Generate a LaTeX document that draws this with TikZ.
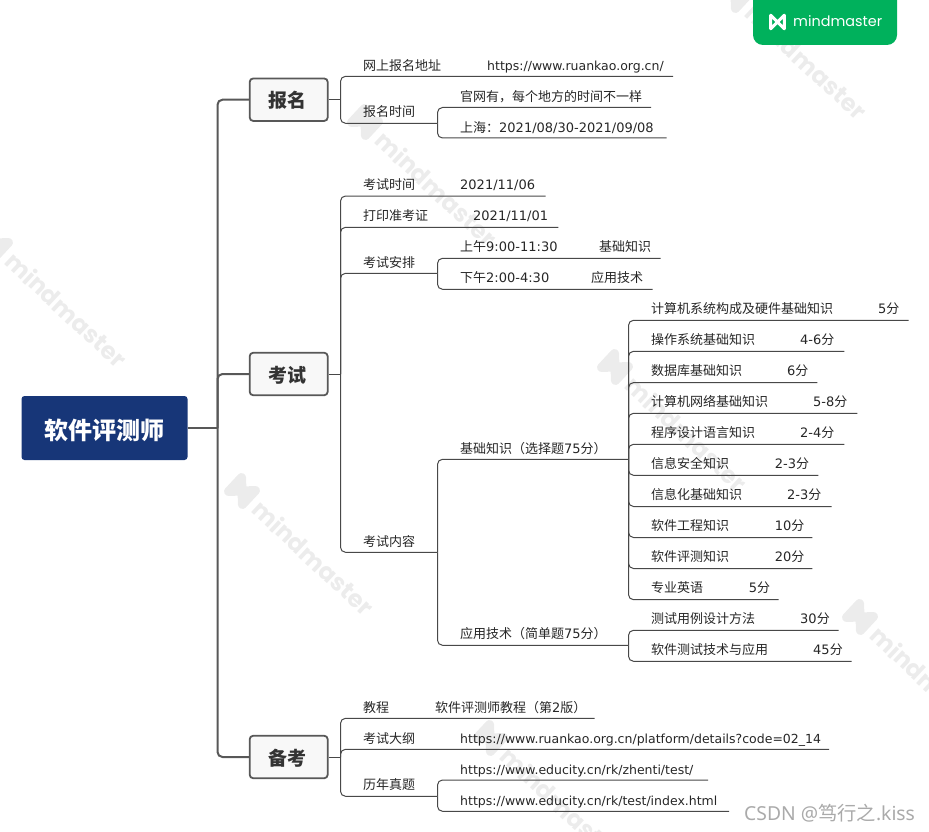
\documentclass[tikz,border=0pt]{standalone}
\usepackage{fontspec}
\setmainfont{DejaVu Sans}
\newfontfamily\cjk{Noto Sans CJK SC}
\newfontfamily\wmfont{Poppins}
\newfontfamily\csdnfont{Noto Sans}
\newcommand{\zh}[1]{{\cjk #1}}
\definecolor{rootblue}{RGB}{23,54,120}
\definecolor{topicfill}{RGB}{248,248,248}
\definecolor{linegray}{RGB}{72,72,72}
\definecolor{trunkgray}{RGB}{88,88,88}
\definecolor{wmgray}{RGB}{236,236,236}
\definecolor{mmgreen}{RGB}{0,177,92}
\definecolor{csdngray}{RGB}{170,170,170}

\begin{document}
\begin{tikzpicture}[
    x=1pt, y=-1pt,
    font=\fontsize{13}{15}\selectfont,
    root/.style  = {rectangle, fill=rootblue, rounded corners=3pt, minimum width=166pt,
                    minimum height=64pt, inner sep=0pt, text=white, text height=25.1pt, text depth=2.9pt,
                    font=\fontsize{24}{28}\selectfont\cjk\bfseries},
    topic/.style = {rectangle, draw=trunkgray, fill=topicfill, line width=1.8pt, rounded corners=3.5pt,
                    minimum width=78pt, minimum height=42.5pt, inner sep=0pt, text=black!80,
                    text height=18.7pt, text depth=2.3pt, execute at end node={\hspace{2.5pt}},
                    font=\fontsize{19}{24}\selectfont\cjk\bfseries},
    lbl/.style   = {anchor=base west, inner sep=0pt, text=black!85},
    url/.style   = {lbl, font=\fontsize{12.5}{15}\selectfont},
    trunk/.style = {line width=2pt, trunkgray, rounded corners=5pt},
    twig/.style  = {line width=1pt, linegray, rounded corners=5pt},
    mmlogo/.pic  = {\draw[line width=3pt, white, line join=round]
                    (-6.8,-6.8) -- (-6.8,6.8) -- (6.8,-6.8) -- (6.8,6.8) -- (-6.8,-6.8) -- cycle;},
    wmark/.pic   = {\draw[line width=9pt, wmgray, line join=round]
                    (-9.5,-9.5) -- (-9.5,9.5) -- (9.5,-9.5) -- (9.5,9.5) -- (-9.5,-9.5) -- cycle;
                    \node[anchor=west, inner sep=0pt, text=wmgray, transform shape,
                          font=\fontsize{24}{28}\selectfont\wmfont\bfseries] (-txt) at (20,0) {mindmaster};},
]
\useasboundingbox (0,0) rectangle (929,832);

% ---------------- watermarks ----------------
\begin{scope}
\clip (0,0) rectangle (929,832);
\pic[rotate=-43] (wma) at (-5,243) {wmark};
\pic[rotate=-43] (wmb) at (242,491) {wmark};
\pic[rotate=-43] (wmc) at (615,367) {wmark};
\pic[rotate=-43] (wmd) at (860,617) {wmark};
\pic[rotate=-43] (wme) at (735,-5) {wmark};
\pic[rotate=-43] (wmf) at (365,122) {wmark};
\pic[rotate=-43] (wmg) at (490,738) {wmark};

% ---------------- badge ----------------
\fill[mmgreen, rounded corners=10pt] (753,-15) rectangle (897,45);
\end{scope}
\pic at (777.5,22) {mmlogo};
\node[anchor=west, inner sep=0pt, text=white, font=\fontsize{14.4}{18}\selectfont\wmfont] (mmname) at (793,21.5) {mindmaster};

% ---------------- root and topics ----------------
\node[root] (rjpc) at (104.5,428) {软件评测师};
\node[topic] (bm) at (288.7,99.7) {报名};
\node[topic] (ks) at (288.7,374) {考试};
\node[topic] (bk) at (288.7,757) {备考};
\coordinate (tmid) at (217.5,428);
\draw[trunk, line width=2.5pt] (rjpc.east) -- (tmid);
\draw[trunk] (tmid) |- (bm.west);
\draw[trunk] (tmid) |- (ks.west);
\draw[trunk] (tmid) |- (bk.west);

% ---------------- bm lane ----------------
\coordinate (bmstem) at (340.5,99.7);
\coordinate (bmsj) at (437.5,123.3);
\coordinate (wsend) at (673,76.3);
\coordinate (gwend) at (651,107.5);
\coordinate (shend) at (666.7,138);
\node[lbl] (wsdz) at (363,70.7) {\zh{网上报名地址}};
\node[url] (wsurl) at (487,70.7) {https://www.ruankao.org.cn/};
\node[lbl] (bmsjt) at (363,117) {\zh{报名时间}};
\node[lbl] (gw) at (460,101.2) {\zh{官网有，每个地方的时间不一样}};
\node[lbl] (sh) at (460,132.4) {\zh{上海：}2021/08/30-2021/09/08};
\draw[twig] (bm.east) -- (bmstem);
\draw[twig] (bmstem) |- (wsend);
\draw[twig] (bmstem) |- (bmsj);
\draw[twig] (bmsj) |- (gwend);
\draw[twig] (bmsj) |- (shend);

% ---------------- ks lane ----------------
\coordinate (ksstem) at (340.5,374);
\coordinate (kssjend) at (545.7,196);
\coordinate (dyend) at (558.3,227.3);
\coordinate (apj) at (437.5,273.3);
\coordinate (amend) at (660.7,258.3);
\coordinate (pmend) at (652.7,289.3);
\coordinate (nrj) at (437.5,552.3);
\coordinate (jcj) at (628.5,459.3);
\coordinate (yyj) at (628.5,645.3);
\node[lbl] (kssj) at (363,189.7) {\zh{考试时间}};
\node[lbl] (kssjv) at (460,189.7) {2021/11/06};
\node[lbl] (dy) at (363,220.3) {\zh{打印准考证}};
\node[lbl] (dyv) at (473,220.3) {2021/11/01};
\node[lbl] (ap) at (363,267) {\zh{考试安排}};
\node[lbl] (am) at (460,251.2) {\zh{上午}9:00-11:30};
\node[lbl] (amv) at (599,251.2) {\zh{基础知识}};
\node[lbl] (pm) at (460,282.2) {\zh{下午}2:00-4:30};
\node[lbl] (pmv) at (591,282.2) {\zh{应用技术}};
\node[lbl] (nr) at (363,546) {\zh{考试内容}};
\node[lbl] (jc) at (460,453) {\zh{基础知识（选择题}75\zh{分）}};
\node[lbl] (yy) at (460,638.3) {\zh{应用技术（简单题}75\zh{分）}};
\draw[twig] (ks.east) -- (ksstem);
\draw[twig] (ksstem) |- (kssjend);
\draw[twig] (ksstem) |- (dyend);
\draw[twig] (ksstem) |- (apj);
\draw[twig] (ksstem) |- (nrj);
\draw[twig] (apj) |- (amend);
\draw[twig] (apj) |- (pmend);
\draw[twig] (nrj) |- (jcj);
\draw[twig] (nrj) |- (yyj);

% ---------------- jc rows ----------------
\node[lbl] (ra) at (651,313.2) {\zh{计算机系统构成及硬件基础知识}};
\node[lbl] (rav) at (878,313.2) {5\zh{分}};
\coordinate (raend) at (908.7,320.3);
\draw[twig] (jcj) |- (raend);
\node[lbl] (rb) at (651,344.2) {\zh{操作系统基础知识}};
\node[lbl] (rbv) at (800,344.2) {4-6\zh{分}};
\coordinate (rbend) at (844.3,351.3);
\draw[twig] (jcj) |- (rbend);
\node[lbl] (rc) at (651,375.5) {\zh{数据库基础知识}};
\node[lbl] (rcv) at (787,375.5) {6\zh{分}};
\coordinate (rcend) at (817.3,382.6);
\draw[twig] (jcj) |- (rcend);
\node[lbl] (rd) at (651,406.2) {\zh{计算机网络基础知识}};
\node[lbl] (rdv) at (813,406.2) {5-8\zh{分}};
\coordinate (rdend) at (857.3,413.3);
\draw[twig] (jcj) |- (rdend);
\node[lbl] (re) at (651,437.2) {\zh{程序设计语言知识}};
\node[lbl] (rev) at (800,437.2) {2-4\zh{分}};
\coordinate (reend) at (844.3,444.3);
\draw[twig] (jcj) |- (reend);
\node[lbl] (rf) at (651,468.2) {\zh{信息安全知识}};
\node[lbl] (rfv) at (774.7,468.2) {2-3\zh{分}};
\coordinate (rfend) at (818.3,475.3);
\draw[twig] (jcj) |- (rfend);
\node[lbl] (rg) at (651,499.4) {\zh{信息化基础知识}};
\node[lbl] (rgv) at (787,499.4) {2-3\zh{分}};
\coordinate (rgend) at (831.7,506.5);
\draw[twig] (jcj) |- (rgend);
\node[lbl] (rh) at (651,530.4) {\zh{软件工程知识}};
\node[lbl] (rhv) at (774.7,530.4) {10\zh{分}};
\coordinate (rhend) at (812.3,537.5);
\draw[twig] (jcj) |- (rhend);
\node[lbl] (ri) at (651,561.4) {\zh{软件评测知识}};
\node[lbl] (riv) at (774.7,561.4) {20\zh{分}};
\coordinate (riend) at (812.3,568.5);
\draw[twig] (jcj) |- (riend);
\node[lbl] (rj) at (651,592.6) {\zh{专业英语}};
\node[lbl] (rjv) at (748.7,592.6) {5\zh{分}};
\coordinate (rjend) at (778.7,599.7);
\draw[twig] (jcj) |- (rjend);

% ---------------- yy rows ----------------
\node[lbl] (rk) at (651,623.2) {\zh{测试用例设计方法}};
\node[lbl] (rkv) at (800,623.2) {30\zh{分}};
\coordinate (rkend) at (838.7,630.3);
\draw[twig] (yyj) |- (rkend);
\node[lbl] (rl) at (651,654.2) {\zh{软件测试技术与应用}};
\node[lbl] (rlv) at (813,654.2) {45\zh{分}};
\coordinate (rlend) at (851.7,661.3);
\draw[twig] (yyj) |- (rlend);

% ---------------- bk lane ----------------
\coordinate (bkstem) at (340.5,757);
\coordinate (jcend) at (594.6,718.3);
\coordinate (dgend) at (829,749.3);
\coordinate (znj) at (437.5,796.3);
\coordinate (ztend) at (708,780);
\coordinate (ixend) at (729,811.3);
\node[lbl] (jct) at (363,712.7) {\zh{教程}};
\node[lbl] (jctv) at (435,712.7) {\zh{软件评测师教程（第}2\zh{版）}};
\node[lbl] (dg) at (363,743) {\zh{考试大纲}};
\node[url] (dgv) at (460,743) {https://www.ruankao.org.cn/platform/details?code=02\_14};
\node[lbl] (zn) at (363,789.3) {\zh{历年真题}};
\node[url] (zt) at (460,774.3) {https://www.educity.cn/rk/zhenti/test/};
\node[url] (ix) at (460,805) {https://www.educity.cn/rk/test/index.html};
\draw[twig] (bk.east) -- (bkstem);
\draw[twig] (bkstem) |- (jcend);
\draw[twig] (bkstem) |- (dgend);
\draw[twig] (bkstem) |- (znj);
\draw[twig] (znj) |- (ztend);
\draw[twig] (znj) |- (ixend);

\node[anchor=base west, inner sep=0pt, text=csdngray, font=\fontsize{19.3}{22}\selectfont\csdnfont] (csdn) at (744,820) {CSDN @\zh{笃行之}.kiss};

\end{tikzpicture}
\end{document}
